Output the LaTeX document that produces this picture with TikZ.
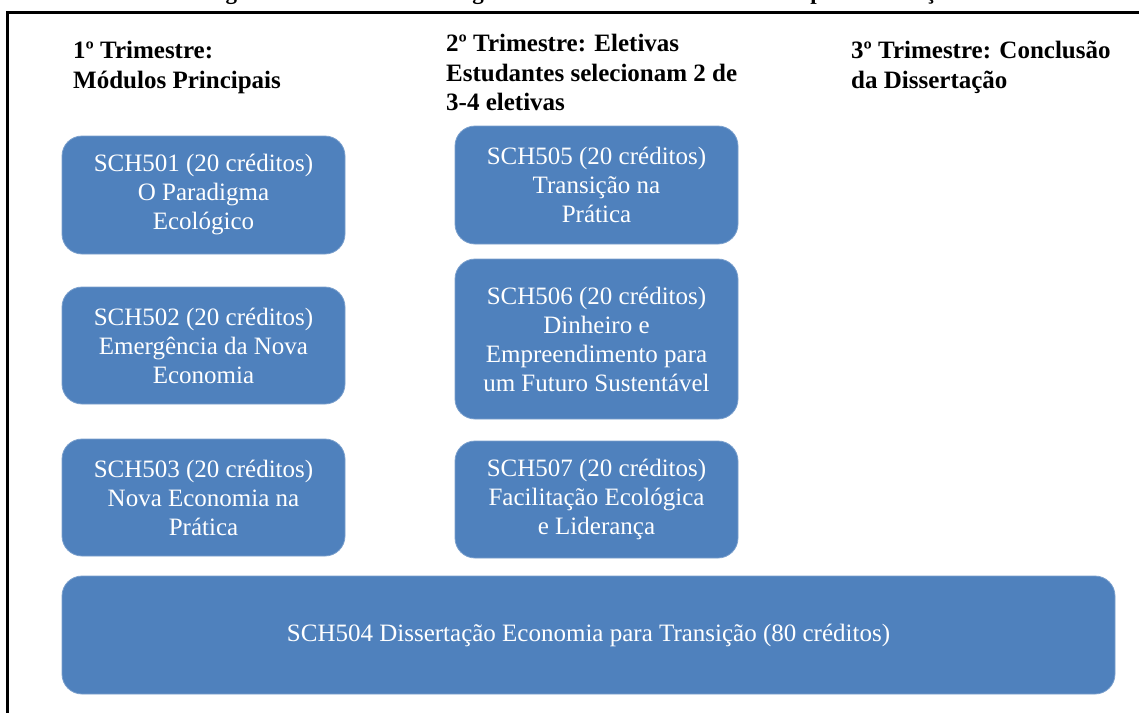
\documentclass[tikz,border=0pt]{standalone}
\usepackage{fontspec}
\setmainfont{LiberationSerif}[Extension=.ttf,
  UprightFont=*-Regular, BoldFont=*-Bold,
  ItalicFont=*-Italic, BoldItalicFont=*-BoldItalic]
\definecolor{modblue}{HTML}{4F81BD}
\begin{document}
\begin{tikzpicture}[x=1pt,y=-1pt,
  modbox/.style={fill=modblue, draw=modblue!75!white, line width=0.8pt,
    rounded corners=20pt, inner sep=0pt, text=white, align=center,
    font=\fontsize{25}{29}\selectfont},
  heading/.style={anchor=north west, align=left, inner sep=0pt,
    font=\fontsize{25}{29.5}\selectfont\bfseries},
  caption/.style={anchor=base, inner sep=0pt,
    font=\fontsize{23}{27}\selectfont\bfseries}]
\useasboundingbox (0,0) rectangle (1139,712);

% caption above the frame (only its lowest part falls on the page)
\node[caption] (title) at (582,0)
  {Figura 1: Estrutura do Programa de Mestrado em Economia para Transição};

% outer frame
\draw[line width=3pt] (7.5,740) -- (7.5,12.5) -- (1170,12.5);

% column headings
\node[heading] (h1) at (73,37.7)
  {\strut 1º Trimestre:\\Módulos Principais};
\node[heading] (h2) at (446,30.7)
  {\strut 2º Trimestre: Eletivas\\Estudantes selecionam 2 de\\3-4 eletivas};
\node[heading] (h3) at (851,37.7)
  {\strut 3º Trimestre: Conclusão\\da Dissertação};

% first term: core modules
\node[modbox, minimum width=283pt, minimum height=118pt] (m501) at (203.5,195)
  {SCH501 (20 créditos)\\O Paradigma\\Ecológico};
\node[modbox, minimum width=283pt, minimum height=117pt] (m502) at (203.5,345.5)
  {SCH502 (20 créditos)\\Emergência da Nova\\Economia};
\node[modbox, minimum width=283pt, minimum height=117pt] (m503) at (203.5,497.5)
  {SCH503 (20 créditos)\\Nova Economia na\\Prática};

% second term: electives
\node[modbox, minimum width=283pt, minimum height=118pt] (m505) at (596.5,185)
  {SCH505 (20 créditos)\\Transição na\\Prática};
\node[modbox, minimum width=283pt, minimum height=160pt] (m506) at (596.5,339)
  {SCH506 (20 créditos)\\Dinheiro e\\Empreendimento para\\um Futuro Sustentável};
\node[modbox, minimum width=283pt, minimum height=117pt] (m507) at (596.5,499.5)
  {SCH507 (20 créditos)\\Facilitação Ecológica\\e Liderança};

% dissertation spanning all terms
\node[modbox, minimum width=1053pt, minimum height=118pt] (m504) at (588.5,635)
  {SCH504 Dissertação Economia para Transição (80 créditos)};
\end{tikzpicture}
\end{document}
